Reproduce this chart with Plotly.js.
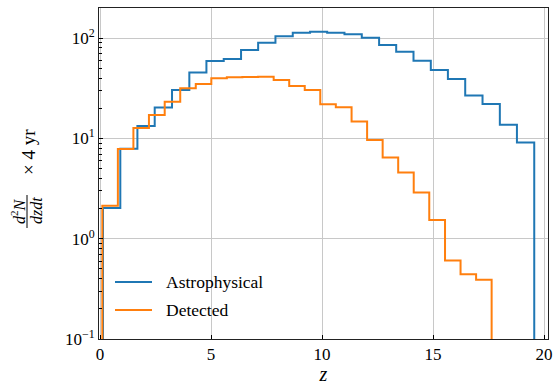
<!DOCTYPE html>
<html>
<head>
<meta charset="utf-8">
<script src="https://cdn.plot.ly/plotly-3.0.1.min.js"></script>
<style>html,body{margin:0;padding:0;background:#fff;}#chart{width:554px;height:385px;}</style>
</head>
<body>
<div id="chart"></div>
<script>
// Bin edges (z) and counts per bin
var astroEdges = [0.13, 0.91, 1.68, 2.46, 3.24, 4.02, 4.79, 5.57, 6.35, 7.12, 7.90, 8.68, 9.46,
                  10.23, 11.01, 11.79, 12.57, 13.34, 14.12, 14.90, 15.67, 16.45, 17.23, 18.01, 18.78, 19.56];
var astroValues = [2.03, 7.9, 13.3, 20.4, 30.5, 45.5, 59.4, 62.2, 76.4, 90.4, 105, 113.8, 116.4,
                   113.8, 109.6, 101, 85.8, 73.5, 59.8, 48.3, 39.3, 26.8, 22.1, 13.7, 9.1];
var detEdges = [0.10, 0.80, 1.50, 2.20, 2.91, 3.61, 4.31, 5.01, 5.71, 6.41, 7.12, 7.82, 8.52, 9.22,
                9.92, 10.62, 11.33, 12.03, 12.73, 13.43, 14.13, 14.83, 15.54, 16.24, 16.94, 17.64];
var detValues = [2.13, 7.87, 12.7, 17.2, 23.3, 31.7, 35.0, 39.9, 40.8, 41.0, 41.4, 38.4, 33.4,
                 30.5, 22.0, 20.5, 14.8, 9.68, 6.46, 4.57, 2.89, 1.54, 0.607, 0.443, 0.389];
var seriesNames = ['Astrophysical', 'Detected'];
var seriesColors = ['#1f77b4', '#ff7f0e'];
var xTicks = [0, 5, 10, 15, 20];
var yTickVals = [0.1, 1, 10, 100];
var yTickText = ['10<sup>\u22121</sup>', '10<sup>0</sup>', '10<sup>1</sup>', '10<sup>2</sup>'];

var FLOOR = 1e-6; // below the axis, like matplotlib's step edge down to zero
function stepTrace(edges, vals, name, color) {
  var xs = [edges[0]], ys = [FLOOR];
  for (var i = 0; i < vals.length; i++) { xs.push(edges[i]); ys.push(vals[i]); }
  xs.push(edges[edges.length - 1]); ys.push(FLOOR);
  return {x: xs, y: ys, type: 'scatter', mode: 'lines', name: name, showlegend: false,
          line: {shape: 'hv', color: color, width: 2}, hoverinfo: 'skip'};
}

var W = 554, H = 385, L = 99, R = 6, T = 8, B = 46;
var PW = W - L - R, PH = H - T - B;
function px(xp) { return (xp - L) / PW; }
function py(yp) { return (H - B - yp) / PH; }

var font = "'Liberation Serif', 'Times New Roman', serif";
var data = [
  stepTrace(astroEdges, astroValues, seriesNames[0], seriesColors[0]),
  stepTrace(detEdges, detValues, seriesNames[1], seriesColors[1])
];

var annotations = [
  {xref: 'paper', yref: 'paper', x: px(18), y: py(211), text: '<i>d</i><sup>2</sup><i>N</i>',
   textangle: -90, showarrow: false, font: {family: font, size: 16}, xanchor: 'center', yanchor: 'middle'},
  {xref: 'paper', yref: 'paper', x: px(36), y: py(211), text: '<i>dzdt</i>',
   textangle: -90, showarrow: false, font: {family: font, size: 16}, xanchor: 'center', yanchor: 'middle'},
  {xref: 'paper', yref: 'paper', x: px(28), y: py(152), text: '\u00d7 4 yr',
   textangle: -90, showarrow: false, font: {family: font, size: 19}, xanchor: 'center', yanchor: 'middle'}
];
var shapes = [
  {type: 'line', xref: 'paper', yref: 'paper', x0: px(27), x1: px(27), y0: py(195), y1: py(228),
   line: {color: '#000', width: 1}}
];
// legend (lower left, matplotlib style: no frame)
var legendRows = [282, 310];
for (var k = 0; k < seriesNames.length; k++) {
  shapes.push({type: 'line', xref: 'paper', yref: 'paper', x0: px(115), x1: px(152),
               y0: py(legendRows[k]), y1: py(legendRows[k]), line: {color: seriesColors[k], width: 2}});
  annotations.push({xref: 'paper', yref: 'paper', x: px(164), y: py(legendRows[k]), text: seriesNames[k],
                    showarrow: false, xanchor: 'left', yanchor: 'middle', font: {family: font, size: 17.5}});
}

var layout = {
  width: W, height: H,
  margin: {l: L, r: R, t: T, b: B},
  paper_bgcolor: '#fff', plot_bgcolor: '#fff',
  font: {family: font, size: 17, color: '#000'},
  showlegend: false,
  xaxis: {range: [-0.05, 20.18], tickmode: 'array', tickvals: xTicks,
          ticks: 'inside', ticklen: 4, tickcolor: '#000',
          showline: true, linecolor: '#222', linewidth: 1, mirror: true,
          showgrid: true, gridcolor: '#c8c8c8', gridwidth: 1, zeroline: false,
          tickfont: {family: font, size: 17},
          title: {text: '<i>z</i>', font: {family: font, size: 20}, standoff: 10}},
  yaxis: {type: 'log', range: [-1, 2.302], tickmode: 'array', tickvals: yTickVals, ticktext: yTickText,
          ticks: 'inside', ticklen: 4, tickcolor: '#000',
          minor: {ticks: 'inside', ticklen: 2.5, tickcolor: '#000', dtick: 'D1', showgrid: false},
          showline: true, linecolor: '#222', linewidth: 1, mirror: true,
          showgrid: true, gridcolor: '#c8c8c8', gridwidth: 1, zeroline: false,
          tickfont: {family: font, size: 17}},
  annotations: annotations,
  shapes: shapes
};

Plotly.newPlot('chart', data, layout, {staticPlot: true, displayModeBar: false});
</script>
</body>
</html>
